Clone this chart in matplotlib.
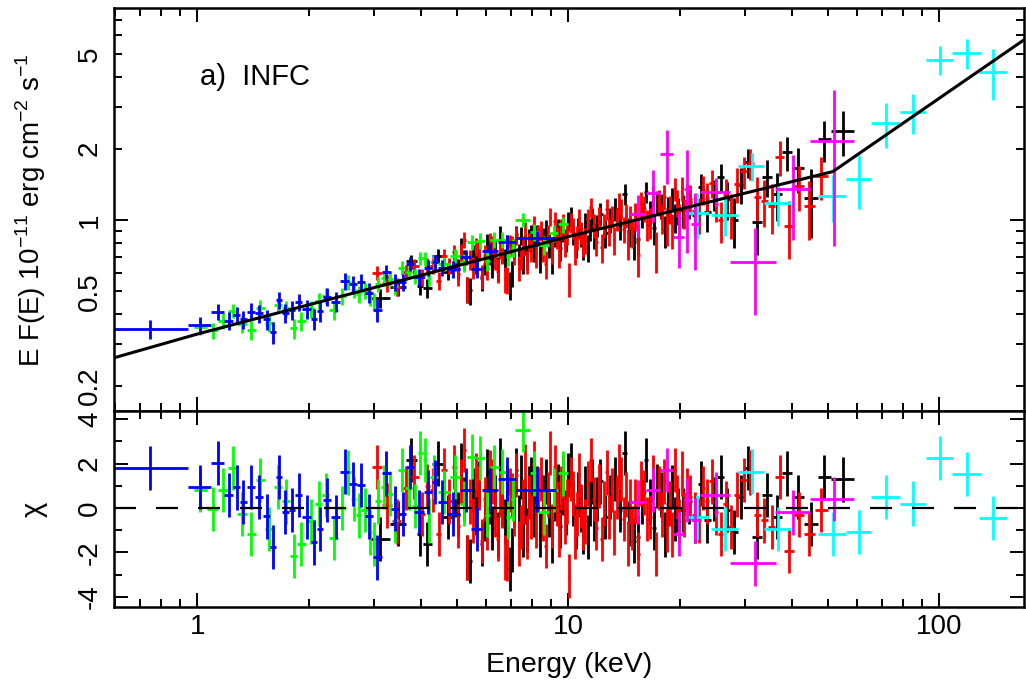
import numpy as np
import matplotlib
matplotlib.use('Agg')
from matplotlib import pyplot as plt
from matplotlib.ticker import FixedLocator, FixedFormatter, NullFormatter, LogLocator

plt.rcParams['font.family'] = ['Liberation Sans', 'DejaVu Sans']
plt.rcParams['mathtext.fontset'] = 'custom'
plt.rcParams['mathtext.rm'] = 'Liberation Sans'
plt.rcParams['axes.unicode_minus'] = False

# best-fit broken power law (keV, 1e-11 erg cm-2 s-1)
model_e = [0.5965, 1.0, 10.0, 51.7, 169.2]
model_f = [0.262, 0.330, 0.85, 1.60, 5.75]

# each data group: channel edges (keV), residual in sigma, error relative to model
black_edges = [2.9, 3.3, 3.65, 3.9, 4.05, 4.3, 4.6,
               4.9, 5.0, 5.1, 5.2, 5.3, 5.4, 5.5, 5.6, 5.7, 5.8, 5.9, 6.0, 6.1, 6.2, 6.3,
               6.4, 6.5, 6.6, 6.7, 6.8, 6.9, 7.0, 7.1, 7.2, 7.3, 7.4, 7.5, 7.6, 7.7, 7.8,
               7.9, 8.0,
               8.16, 8.32, 8.48, 8.64, 8.8, 8.96, 9.12, 9.28, 9.44, 9.6, 9.76, 9.92, 10.08,
               10.24, 10.4, 10.56, 10.72, 10.88, 11.04, 11.2, 11.36, 11.52, 11.68, 11.84, 12.0,
               12.4, 12.8, 13.2, 13.6, 14.0, 14.4, 14.8, 15.2, 15.6, 16.0, 16.4, 16.8, 17.2,
               17.6, 18.0, 18.4, 18.8, 19.2, 19.6, 20.0,
               20.8, 21.6, 22.4, 23.2, 24.2, 25.2, 26.3, 27.4, 28.6, 29.8, 31.2, 33.2, 35.4,
               37.7, 40.2, 43.2, 47.0, 51.0, 59.0]
black_chi = [-1.39, -0.7, 2.17, -1.16, -1.62, 2.0, -0.41,
             0.6, -0.3, 1.94, 0.4, -2.23, -2.38, 0.8, -0.2, 1.1, -1.62,
             -0.5, 1.64, 0.3, -0.9, 0.5, -1.2, 2.17, 0.2, -0.6, 0.9,
             -2.75, -1.9, 0.2, 1.7, -0.4, 1.4, -1.2, 0.3, -1.0, 0.9, 1.3,
             -0.3, 0.9, -1.2, 0.5, 1.2, -0.3, -1.5, 0.4, 1.0, -0.8,
             0.7, -0.2, 1.5, 1.94, 0.2, -0.86, 0.6, -0.1, -1.09, 0.9,
             -1.3, 0.2, 1.2, -0.5, 0.4,
             1.2, -0.4, 0.5, 1.3, -0.1, 2.47, -0.7, -1.47, -1.3, 0.3,
             2.17, 0.3, -0.9, 1.0, 0.6, -1.2, 0.2, 0.95, -0.5, -0.1,
             -0.1, 0.3, -0.56, 1.1, -0.56, 0.4, 1.41, -0.1, -1.09, 0.5,
             1.8, -1.32, 0.58, -0.4, 1.56, 0.5, -0.71, 1.41, 1.29]
black_rel = [0.08, 0.08, 0.08, 0.08, 0.08, 0.08, 0.08,
             0.1, 0.1, 0.1, 0.1, 0.1, 0.1, 0.1, 0.1, 0.1, 0.1,
             0.1, 0.1, 0.1, 0.1, 0.1, 0.1, 0.1, 0.1, 0.1, 0.1,
             0.1, 0.1, 0.1, 0.1, 0.1, 0.1, 0.1, 0.1, 0.1, 0.1, 0.1,
             0.11, 0.11, 0.11, 0.11, 0.11, 0.11, 0.11, 0.11, 0.11, 0.11,
             0.11, 0.11, 0.11, 0.11, 0.11, 0.11, 0.11, 0.11, 0.11, 0.11,
             0.11, 0.11, 0.11, 0.11, 0.11,
             0.13, 0.13, 0.13, 0.13, 0.13, 0.13, 0.13, 0.13, 0.13, 0.13,
             0.13, 0.13, 0.13, 0.13, 0.13, 0.13, 0.13, 0.13, 0.13, 0.13,
             0.16, 0.16, 0.16, 0.16, 0.16, 0.16, 0.17, 0.18, 0.19, 0.19,
             0.19, 0.2, 0.2, 0.21, 0.22, 0.24, 0.26, 0.28, 0.3]

red_edges = [2.95, 3.15, 3.35, 3.55, 3.75, 3.95, 4.1, 4.25, 4.4, 4.55, 4.7, 4.85,
             5.0, 5.1, 5.2, 5.3, 5.4, 5.5, 5.6, 5.7, 5.8, 5.9, 6.0, 6.1, 6.2, 6.3, 6.4, 6.5,
             6.6, 6.7, 6.8, 6.9, 7.0, 7.1, 7.2, 7.3, 7.4, 7.5, 7.6, 7.7, 7.8, 7.9, 8.0,
             8.125, 8.25, 8.375, 8.5, 8.625, 8.75, 8.875, 9.0, 9.125, 9.25, 9.375, 9.5,
             9.625, 9.75, 9.875, 10.0, 10.125, 10.25, 10.375, 10.5, 10.625, 10.75, 10.875,
             11.0,
             11.2, 11.4, 11.6, 11.8, 12.0, 12.2, 12.4, 12.6, 12.8, 13.0, 13.2, 13.4, 13.6,
             13.8, 14.0, 14.2, 14.4, 14.6, 14.8, 15.0,
             15.3, 15.6, 15.9, 16.2, 16.5, 16.8, 17.1, 17.4, 17.7, 18.0, 18.3, 18.6, 18.9,
             19.2, 19.5, 19.8, 20.1, 20.4, 20.7, 21.0,
             21.6, 22.2, 22.8, 23.4, 24.0, 24.7, 25.4, 26.1,
             27.0, 28.0, 29.1, 30.3, 31.6, 33.0, 34.6, 36.2, 38.2, 40.6, 43.2, 46.2, 50.0]
red_chi = [1.86, 0.12, -0.6, 0.9, 1.41, -0.26, 1.0, 0.8, -1.16, 1.71, 0.3, 1.86,
           -0.8, 1.2, 2.62, -2.23, 0.3, -0.56, 1.5, 0.9, -1.5, 0.4,
           -0.9, 1.6, 1.2, -0.3, -1.4, 0.6, 0.1, -2.23, -2.3, 0.8,
           0.58, -0.26, 1.5, -1.6, -0.86, 0.3, 1.9, -1.3, 0.5, -0.4,
           2.0, -0.8, 0.85, 1.3, -0.5, -1.7, 0.6, 2.47, -0.8, 1.86,
           0.2, -1.2, 0.9, 1.4, -0.6, 0.3, -3.06, 1.3, 0.65, -1.3,
           -0.26, 1.5, 0.1, -0.9,
           -0.6, 1.1, 2.17, 0.4, -0.9, 1.0, -1.4, 0.2, 1.6, -0.4,
           0.8, -1.1, 0.5, 1.9, 1.3, -0.5, 0.6, -1.6, 0.3, -0.9,
           0.3, -2.07, 1.1, 0.7, -0.5, -0.4, 1.4, -2.07, 0.9, -0.3,
           1.2, -1.0, 0.2, -1.2, 1.7, 0.5, -0.6, 1.56, -0.3, 0.8,
           0.5, -0.3, -0.56, 0.9, 0.3, 1.2, -0.2, -1.16,
           0.2, -0.86, 0.6, 1.26, 1.6, -0.3, -0.56, -0.86, 1.41, -1.92, -0.3, -1.16, -0.1]
red_rel = [0.08, 0.08, 0.08, 0.08, 0.08, 0.08, 0.08, 0.08, 0.08, 0.08, 0.08, 0.08,
           0.1, 0.1, 0.1, 0.1, 0.1, 0.1, 0.1, 0.1, 0.1, 0.1,
           0.1, 0.1, 0.1, 0.1, 0.1, 0.1, 0.1, 0.1, 0.1, 0.1,
           0.1, 0.1, 0.1, 0.1, 0.1, 0.1, 0.1, 0.1, 0.1, 0.1,
           0.11, 0.11, 0.11, 0.11, 0.11, 0.11, 0.11, 0.11, 0.11, 0.11,
           0.11, 0.11, 0.11, 0.11, 0.11, 0.11, 0.11, 0.11, 0.11, 0.11,
           0.11, 0.11, 0.11, 0.11,
           0.12, 0.12, 0.12, 0.12, 0.12, 0.12, 0.12, 0.12, 0.12, 0.12,
           0.12, 0.12, 0.12, 0.12, 0.12, 0.12, 0.12, 0.12, 0.12, 0.12,
           0.14, 0.14, 0.14, 0.14, 0.14, 0.14, 0.14, 0.14, 0.14, 0.14,
           0.14, 0.14, 0.14, 0.14, 0.14, 0.14, 0.14, 0.14, 0.14, 0.14,
           0.16, 0.16, 0.16, 0.16, 0.16, 0.16, 0.16, 0.16,
           0.17, 0.18, 0.19, 0.19, 0.2, 0.2, 0.2, 0.2, 0.22, 0.18, 0.2, 0.21, 0.2]

green_edges = [0.98, 1.06, 1.14, 1.21, 1.28, 1.36, 1.44, 1.52, 1.61, 1.69, 1.78, 1.86, 1.96,
               2.08, 2.17, 2.27, 2.40, 2.51, 2.60, 2.68, 2.77, 2.88, 2.96, 3.02, 3.12, 3.24,
               3.36, 3.48, 3.64, 3.80, 3.93, 4.05, 4.16, 4.25, 4.45, 4.80, 5.10, 5.35, 5.65,
               5.95, 6.15, 6.5, 6.8, 7.0, 7.2, 7.9, 8.3, 8.9, 9.4, 10.0]
green_chi = [0.8, -0.05, 0.8, 1.79, -0.26, -1.18, 1.26, -0.94, 0.95, 0.3, -2.15, -1.62,
             -0.6, 0.2, 0.58, -1.35, 0.0, 1.6, 0.4, -0.33, -0.1, -1.1, -1.62, 0.3, 0.95, 0.65,
             -0.56, 1.71, 0.9, 0.1, 2.47, 2.17, -0.56, 1.41, 0.73, 1.41, 0.2, 2.32, 2.24,
             -0.3, 1.86, 1.64, -0.41, 0.4, 3.53, 1.56, -0.2, 0.8, 1.56]
green_rel = [0.08, 0.08, 0.08, 0.08, 0.08, 0.08, 0.08, 0.08, 0.08, 0.08, 0.08, 0.08, 0.08,
             0.08, 0.08, 0.08, 0.08, 0.08, 0.08, 0.08,
             0.075, 0.075, 0.075, 0.075, 0.075, 0.075, 0.075, 0.075, 0.075, 0.075, 0.075,
             0.075, 0.075, 0.075, 0.075, 0.075,
             0.09, 0.09, 0.09, 0.09, 0.09, 0.09, 0.09, 0.09, 0.09, 0.09, 0.09, 0.09, 0.09]

blue_edges = [0.55, 0.945, 1.09, 1.18, 1.25, 1.305, 1.36, 1.43, 1.50, 1.575, 1.63, 1.69,
              1.765, 1.835, 1.92, 2.03, 2.10, 2.18, 2.30, 2.43, 2.56, 2.70, 2.83, 2.98, 3.14,
              3.32, 3.50, 3.66, 3.84, 4.08, 4.30, 4.46, 4.70, 5.10, 5.48, 5.84, 6.45, 7.25,
              9.25]
blue_chi = [1.79, 0.95, 2.02, 0.58, 0.93, 0.27, 0.95, 0.50, -0.38, -1.77, 1.41, -0.18,
            -0.10, 0.58, -0.41, -1.55, -0.94, 0.35, -0.41, 1.64, 1.08, 1.03, -0.38, -2.23,
            1.56, -0.03, -0.26, 1.86, -0.18, 0.73, 1.18, 0.27, -0.26, 0.80, -0.94, 0.80,
            1.30, 0.80]
blue_rel = [0.11, 0.09, 0.09, 0.09, 0.09, 0.09, 0.09, 0.09, 0.09, 0.09, 0.09, 0.09, 0.09,
            0.09, 0.09, 0.09, 0.09, 0.09, 0.09, 0.09, 0.09, 0.09, 0.09, 0.09,
            0.08, 0.08, 0.08, 0.08, 0.08, 0.08, 0.08, 0.08, 0.08, 0.08, 0.08, 0.08, 0.08, 0.08]

# the two hard X-ray groups have gaps, so keep centre and half width
cyan_e = [22.3, 26.5, 31.2, 36.8, 51.6, 60.8, 72.0, 85.2, 100.5, 119.0, 140.0]
cyan_de = [1.7, 2.2, 2.5, 3.0, 4.5, 4.7, 6.4, 6.9, 8.4, 11.0, 12.0]
cyan_chi = [-0.4, -0.94, 1.64, -0.94, -1.16, -1.09, 0.5, 0.2, 2.24, 1.53, -0.45]
cyan_rel = [0.2, 0.16, 0.17, 0.17, 0.18, 0.2, 0.24, 0.2, 0.2, 0.19, 0.22]

magenta_e = [15.4, 16.95, 18.45, 19.85, 20.95, 22.0, 24.95, 31.8, 40.4, 51.95]
magenta_de = [0.8, 0.75, 0.75, 0.65, 0.45, 0.6, 2.35, 4.5, 4.4, 7.15]
magenta_chi = [0.27, 0.8, 1.71, -1.16, 0.35, -0.56, 0.6, -2.5, -0.2, 0.4]
magenta_rel = [0.21, 0.31, 0.45, 0.2, 0.55, 0.3, 0.15, 0.2, 0.36, 0.86]


def model(e):
    return 10 ** np.interp(np.log10(e), np.log10(model_e), np.log10(model_f))


def centres(edges):
    edges = np.asarray(edges)
    return 0.5 * (edges[1:] + edges[:-1]), 0.5 * (edges[1:] - edges[:-1])


groups = []
for edges, chi, rel, col in [(black_edges, black_chi, black_rel, 'black'),
                             (red_edges, red_chi, red_rel, '#ff0000'),
                             (green_edges, green_chi, green_rel, '#00ff00'),
                             (blue_edges, blue_chi, blue_rel, '#0000ff')]:
    e, de = centres(edges)
    groups.append((e, de, np.asarray(chi), np.asarray(rel), col))
groups.append((np.asarray(cyan_e), np.asarray(cyan_de), np.asarray(cyan_chi),
               np.asarray(cyan_rel), '#00ffff'))
groups.append((np.asarray(magenta_e), np.asarray(magenta_de), np.asarray(magenta_chi),
               np.asarray(magenta_rel), '#ff00ff'))

fig = plt.figure(figsize=(10.26, 6.8), dpi=100)
ax1 = fig.add_axes([0.1111, 0.3949, 0.8869, 0.5934])
ax2 = fig.add_axes([0.1111, 0.1074, 0.8869, 0.2875])

for e, de, chi, rel, col in groups:
    m = model(e)
    flux = m * (1 + chi * rel)
    ax1.errorbar(e, flux, xerr=de, yerr=m * rel, fmt='none', ecolor=col,
                 elinewidth=2.0, capsize=0)
    ax2.errorbar(e, chi, xerr=de, yerr=np.ones_like(chi), fmt='none', ecolor=col,
                 elinewidth=2.0, capsize=0)

ax1.plot(model_e, model_f, color='black', lw=2.2, zorder=5)
ax2.axhline(0, color='black', lw=1.6, ls=(0, (9.9, 9.0)), zorder=5)

for ax in (ax1, ax2):
    ax.set_xscale('log')
    ax.set_xlim(0.5965, 169.2)
    ax.xaxis.set_major_locator(FixedLocator([1, 10, 100]))
    ax.xaxis.set_minor_locator(LogLocator(base=10, subs=np.arange(2, 10)))
    ax.xaxis.set_minor_formatter(NullFormatter())
    ax.tick_params(which='both', direction='in', top=True, right=True, width=1.4,
                   labelsize=20)
    ax.tick_params(which='major', length=10)
    ax.tick_params(which='minor', length=5.5)
    ax.tick_params(axis='y', which='both', labelrotation=90, pad=8)
    ax.tick_params(axis='x', which='both', pad=5)
    for s in ax.spines.values():
        s.set_linewidth(1.8)

ax1.xaxis.set_major_formatter(NullFormatter())
ax2.xaxis.set_major_formatter(FixedFormatter(['1', '10', '100']))

ax1.set_yscale('log')
ax1.set_ylim(0.1556, 7.84)
ax1.yaxis.set_major_locator(FixedLocator([1]))
ax1.yaxis.set_major_formatter(FixedFormatter(['1']))
ax1.yaxis.set_minor_locator(FixedLocator([0.2, 0.3, 0.4, 0.5, 0.6, 0.7, 0.8, 0.9,
                                          2, 3, 4, 5, 6, 7]))
ax1.yaxis.set_minor_formatter(FixedFormatter(['0.2', '', '', '0.5', '', '', '', '',
                                              '2', '', '', '5', '', '']))

ax2.set_ylim(-4.46, 4.35)
ax2.yaxis.set_major_locator(FixedLocator([-4, -2, 0, 2, 4]))
ax2.yaxis.set_major_formatter(FixedFormatter(['-4', '-2', '0', '2', '4']))
ax2.yaxis.set_minor_locator(FixedLocator([-3, -1, 1, 3]))

for lab in ax1.get_yticklabels(which='both') + ax2.get_yticklabels():
    lab.set_va('center')

ax1.set_ylabel(r'E F(E) 10$^{-11}$ erg cm$^{-2}$ s$^{-1}$', fontsize=20)
ax1.yaxis.set_label_coords(-0.0725, 0.5)
ax2.set_ylabel('χ', fontsize=21)
ax2.yaxis.set_label_coords(-0.0725, 0.5)
ax2.set_xlabel('Energy (keV)', fontsize=20.5)
ax2.xaxis.set_label_coords(0.5, -0.232)
ax2.xaxis.label.set_va('top')

ax1.text(0.0945, 0.829, 'a)  INFC', transform=ax1.transAxes, fontsize=21, va='center')

fig.savefig('out.png', dpi=100)
